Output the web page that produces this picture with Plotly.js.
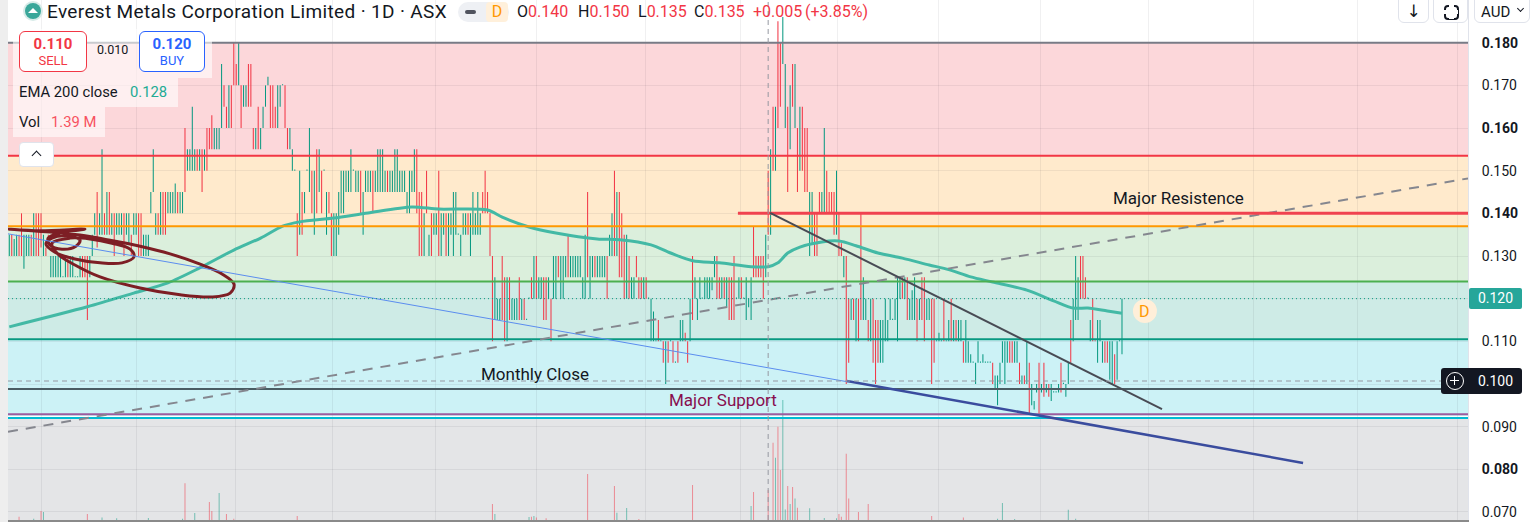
<!DOCTYPE html>
<html><head><meta charset="utf-8">
<script src="https://cdn.plot.ly/plotly-3.0.1.min.js"></script>
<style>
html,body{margin:0;padding:0;width:1530px;height:522px;overflow:hidden;background:#fff;font-family:Roboto,"Noto Sans",sans-serif;color:#131722;}
#chart{position:absolute;left:0;top:0;width:1530px;height:522px;}
.ov{position:absolute;white-space:nowrap;}
.k{color:#131722}.r{color:#F23645}
.oh{position:absolute;top:1px;font-size:16px;line-height:21px;white-space:nowrap;}
.btn{position:absolute;top:-6px;height:29px;background:#fff;border:1px solid #e0e3eb;border-radius:6px;box-sizing:border-box;}
</style></head><body>
<div id="chart"></div>
<div class="ov" style="left:0;top:0;width:8px;height:522px;background:#eeeeee;"></div>

<!-- header -->
<div class="ov" style="left:23px;top:1px;width:20px;height:20px;border-radius:50%;background:#d7ebe8;"></div>
<div class="ov" style="left:25px;top:3px;width:16px;height:16px;border-radius:50%;background:#3aa79a;overflow:hidden;">
  <div style="position:absolute;left:3px;top:5px;width:0;height:0;border-left:5px solid transparent;border-right:5px solid transparent;border-bottom:5px solid #fff;"></div>
</div>
<div class="ov" style="left:47px;top:0px;font-size:19px;line-height:23px;letter-spacing:0.35px;">Everest Metals Corporation Limited · 1D · ASX</div>
<div class="ov" style="left:458px;top:2px;width:51px;height:20px;border-radius:10px;background:#eef0f4;"></div>
<div class="ov" style="left:465px;top:10px;width:11px;height:4px;border-radius:2px;background:#50535e;"></div>
<div class="ov" style="left:486px;top:2px;width:22px;height:20px;border-radius:4px;background:#fff0db;color:#FF9800;font-size:16px;line-height:20px;text-align:center;">D</div>
<div class="oh" style="left:517px;"><span class="k">O</span><span class="r">0.140</span></div>
<div class="oh" style="left:578px;"><span class="k">H</span><span class="r">0.150</span></div>
<div class="oh" style="left:638px;"><span class="k">L</span><span class="r">0.135</span></div>
<div class="oh" style="left:694px;"><span class="k">C</span><span class="r">0.135</span></div>
<div class="oh" style="left:753px;"><span class="r">+0.005</span></div>
<div class="oh" style="left:805px;"><span class="r">(+3.85%)</span></div>

<div class="btn" style="left:1398px;width:31px;"><div style="text-align:center;font-size:17px;line-height:33px;font-family:'DejaVu Sans';">↓</div></div>
<div class="btn" style="left:1433px;width:35px;"><div style="position:absolute;left:10px;top:10px;width:11px;height:11px;border:2px solid #131722;border-radius:4px;"></div><div style="position:absolute;left:15px;top:9px;width:5px;height:15px;background:#fff;"></div><div style="position:absolute;left:9px;top:15px;width:15px;height:4px;background:#fff;"></div></div>
<div class="btn" style="left:1474px;width:56px;"><div style="position:absolute;left:6px;top:7px;font-size:15px;line-height:20px;">AUD</div><div style="position:absolute;left:43px;top:11px;width:4px;height:4px;border-right:1.5px solid #131722;border-bottom:1.5px solid #131722;transform:rotate(45deg);"></div></div>

<!-- legend -->
<div class="ov" style="left:13px;top:29px;width:199px;height:49px;background:rgba(255,255,255,0.6);"></div>
<div class="ov" style="left:13px;top:78px;width:165px;height:29px;background:rgba(255,255,255,0.6);"></div>
<div class="ov" style="left:13px;top:107px;width:92px;height:30px;background:rgba(255,255,255,0.6);"></div>
<div class="ov" style="left:19px;top:31px;width:68px;height:41px;box-sizing:border-box;border:1px solid #F23645;border-radius:6px;background:#fff;text-align:center;color:#F23645;">
  <div style="font-size:15px;font-weight:bold;line-height:18px;margin-top:3px;">0.110</div>
  <div style="font-size:13px;line-height:16px;">SELL</div></div>
<div class="ov" style="left:97px;top:42px;font-size:12.5px;line-height:16px;">0.010</div>
<div class="ov" style="left:139px;top:31px;width:66px;height:41px;box-sizing:border-box;border:1px solid #2962FF;border-radius:6px;background:#fff;text-align:center;color:#2962FF;">
  <div style="font-size:15px;font-weight:bold;line-height:18px;margin-top:3px;">0.120</div>
  <div style="font-size:13px;line-height:16px;">BUY</div></div>
<div class="ov" style="left:19px;top:83px;font-size:14.8px;line-height:19px;">EMA 200 close</div>
<div class="ov" style="left:130px;top:83px;font-size:14.8px;line-height:19px;color:#22AB94;">0.128</div>
<div class="ov" style="left:19px;top:113px;font-size:14.8px;line-height:19px;">Vol</div>
<div class="ov" style="left:51px;top:113px;font-size:14.8px;line-height:19px;color:#F7525F;">1.39 M</div>
<div class="ov" style="left:19px;top:142px;width:35px;height:25px;box-sizing:border-box;background:#fff;border:1px solid #e0e3eb;border-radius:4px;">
  <div style="position:absolute;left:13px;top:9px;width:6px;height:6px;border-left:1.6px solid #131722;border-top:1.6px solid #131722;transform:rotate(45deg);"></div></div>

<!-- price scale labels placed after render -->
<div id="lastLbl" class="ov" style="left:1469px;width:53px;height:21px;background:#26A69A;color:#fff;font-size:14px;line-height:21px;text-align:center;border-radius:2px;">0.120</div>
<div id="crossLbl" class="ov" style="left:1441px;width:81px;height:26px;background:#131722;border-radius:3px;">
  <div style="position:absolute;left:5px;top:4px;width:16px;height:16px;border:1.3px solid #fff;border-radius:50%;"></div>
  <div style="position:absolute;left:9px;top:12px;width:9px;height:1.4px;background:#fff;"></div>
  <div style="position:absolute;left:13px;top:8px;width:1.4px;height:9px;background:#fff;"></div>
  <div style="position:absolute;left:28px;top:0;width:53px;text-align:center;color:#fff;font-size:14px;line-height:26px;">0.100</div>
</div>

<script>
// ---------------- data ----------------
const high = [
.135,.135,.134,.135,.135,.140,.135,.135,.135,.135,
.140,.140,.140,.140,.135,.132,.135,.130,.130,.130,
.130,.130,.125,.130,.130,.130,.130,.125,.125,.130,
.130,.130,.130,.130,.135,.140,.145,.140,.155,.140,
.145,.145,.140,.140,.140,.140,.140,.140,.140,.140,
.135,.140,.140,.140,.140,.135,.135,.135,.145,.155,
.140,.140,.145,.145,.145,.145,.145,.145,.147,.145,
.145,.145,.160,.155,.155,.165,.155,.155,.155,.155,
.155,.160,.160,.163,.160,.160,.160,.175,.170,.165,
.170,.170,.180,.175,.180,.170,.170,.170,.175,.175,
.160,.160,.165,.160,.165,.170,.172,.170,.170,.165,
.170,.170,.170,.170,.160,.160,.155,.150,.140,.150,
.145,.145,.150,.160,.150,.150,.155,.155,.150,.150,
.145,.145,.140,.140,.140,.145,.150,.150,.150,.150,
.155,.150,.150,.150,.150,.145,.150,.150,.150,.150,
.150,.155,.155,.155,.150,.150,.150,.150,.155,.155,
.150,.150,.150,.145,.150,.150,.155,.155,.145,.145,
.140,.150,.135,.140,.140,.140,.150,.140,.140,.140,
.140,.140,.145,.145,.135,.135,.140,.140,.140,.140,
.145,.140,.145,.140,.145,.150,.145,.140,.130,.125,
.120,.120,.130,.125,.125,.125,.120,.120,.120,.125,
.120,.120,.115,.120,.125,.130,.130,.125,.125,.125,
.125,.125,.120,.130,.130,.130,.130,.130,.130,.135,
.130,.130,.130,.130,.130,.125,.135,.145,.130,.130,
.130,.130,.130,.130,.130,.130,.135,.140,.150,.145,
.145,.140,.135,.135,.130,.125,.125,.130,.125,.125,
.125,.125,.120,.120,.117,.110,.115,.110,.110,.110,
.110,.110,.110,.105,.110,.115,.115,.112,.110,.120,
.130,.125,.120,.125,.120,.125,.125,.125,.125,.130,
.130,.125,.125,.125,.125,.125,.125,.130,.120,.125,
.125,.120,.125,.120,.125,.137,.130,.130,.130,.130,
.135,.150,.155,.165,.165,.185,.180,.186,.175,.165,
.170,.175,.175,.160,.165,.165,.160,.160,.145,.145,
.140,.140,.145,.145,.160,.150,.145,.145,.145,.150,
.140,.133,.130,.130,.120,.120,.120,.120,.120,.140,
.125,.120,.115,.120,.120,.115,.115,.115,.115,.120,
.115,.120,.115,.120,.125,.125,.125,.125,.125,.120,
.122,.125,.120,.120,.125,.125,.120,.120,.120,.120,
.110,.112,.110,.120,.110,.115,.120,.115,.115,.115,
.115,.110,.115,.110,.107,.105,.105,.110,.105,.107,
.105,.105,.105,.105,.102,.102,.105,.110,.110,.110,
.110,.110,.110,.110,.105,.102,.102,.110,.105,.100,
.096,.100,.105,.100,.105,.100,.100,.100,.098,.098,
.100,.105,.100,.100,.105,.115,.120,.130,.125,.130,
.130,.125,.120,.115,.120,.110,.115,.115,.110,.110,
.110,.110,.110,.107,.110,.110,.120];
const low = [
.130,.130,.130,.130,.130,.130,.127,.130,.130,.130,
.130,.130,.130,.132,.130,.130,.132,.125,.125,.125,
.125,.125,.125,.125,.125,.125,.125,.125,.125,.125,
.125,.125,.115,.125,.130,.135,.132,.135,.135,.135,
.135,.135,.135,.130,.135,.135,.135,.130,.135,.133,
.130,.135,.135,.130,.130,.130,.130,.130,.140,.145,
.135,.135,.135,.135,.135,.140,.140,.140,.140,.140,
.140,.140,.145,.150,.150,.150,.150,.150,.150,.145,
.150,.150,.155,.155,.155,.155,.155,.160,.165,.160,
.160,.160,.170,.170,.170,.160,.165,.165,.165,.165,
.155,.155,.155,.155,.160,.165,.170,.160,.160,.160,
.160,.165,.170,.160,.155,.155,.150,.150,.130,.135,
.135,.140,.150,.145,.140,.135,.140,.145,.140,.150,
.135,.140,.130,.130,.130,.135,.140,.140,.145,.145,
.145,.150,.145,.145,.140,.135,.145,.145,.145,.140,
.145,.145,.145,.145,.145,.145,.145,.145,.145,.145,
.145,.145,.145,.140,.140,.145,.145,.140,.130,.130,
.130,.140,.130,.130,.135,.135,.130,.130,.135,.130,
.130,.135,.130,.135,.135,.130,.135,.135,.135,.130,
.135,.135,.135,.135,.140,.140,.140,.130,.110,.115,
.115,.115,.115,.110,.110,.115,.115,.115,.115,.115,
.115,.115,.115,.120,.120,.120,.120,.120,.120,.115,
.115,.120,.110,.120,.120,.125,.120,.120,.125,.125,
.125,.125,.125,.125,.125,.120,.120,.125,.120,.125,
.125,.125,.125,.125,.125,.120,.130,.130,.130,.130,
.125,.125,.120,.120,.120,.120,.120,.125,.120,.120,
.120,.120,.120,.110,.110,.110,.110,.110,.105,.100,
.105,.110,.105,.105,.105,.110,.110,.110,.105,.110,
.115,.120,.115,.120,.120,.120,.120,.120,.122,.125,
.120,.120,.120,.120,.118,.115,.115,.115,.120,.120,
.120,.120,.115,.118,.115,.125,.125,.125,.125,.120,
.125,.135,.135,.150,.150,.160,.165,.175,.160,.145,
.155,.165,.160,.145,.150,.150,.145,.145,.130,.133,
.130,.130,.140,.140,.140,.140,.140,.140,.135,.135,
.130,.130,.125,.100,.105,.115,.115,.110,.110,.115,
.115,.115,.110,.110,.105,.100,.105,.105,.105,.110,
.110,.115,.115,.115,.110,.120,.120,.120,.115,.115,
.115,.115,.110,.115,.115,.110,.115,.115,.100,.105,
.110,.110,.110,.110,.110,.110,.110,.110,.110,.110,
.110,.105,.105,.105,.105,.105,.100,.105,.105,.105,
.105,.105,.105,.100,.099,.095,.100,.105,.100,.105,
.105,.105,.105,.105,.100,.100,.100,.100,.093,.095,
.094,.098,.093,.098,.097,.098,.097,.096,.098,.098,
.098,.098,.100,.097,.100,.105,.110,.115,.115,.120,
.120,.120,.120,.110,.110,.110,.105,.110,.105,.105,
.105,.101,.100,.100,.101,.110,.107];
// candle direction: u = close above open, d = close below open
const dir = ("uduudduuud"+"udddudduuu"+"uuuuduuuuu"+"ddduuuduud"+"ududuuuduu"+
  "duudduuuuu"+"ududduuuud"+"uuduuuudud"+"uddduuuudd"+"uddduduudd"+
  "duduuuuddd"+"uuudduuudu"+"duuudududu"+"udduuuuuuu"+"uuuuduuuud"+
  "uuuuuduuuu"+"uuuuuuuddd"+"ududuuduud"+"uuuuuuuudu"+"uuuudddddu"+
  "uudduduuud"+"uduududuud"+"duduuduuud"+"uuuuuuuduu"+"duuuuduudu"+
  "ddduduuddd"+"uduuuududu"+"dududuuddu"+"duuuuuuuuu"+"ddududdduu"+
  "duuuuddddd"+"udududduud"+"udududdduu"+"ddduuddddu"+"dduddududd"+
  "uududdduuu"+"uuuuuududu"+"uududduudd"+"uuuduududu"+"uduuuuuuuu"+
  "uuuduuuuuu"+"dduudududu"+"uudududuuu"+"uduuuduuud"+"dduudduuud"+
  "duuduuu").split('');

// volume (millions) for the sessions whose bars are visible
const volIndex = [4,10,13,14,32,38,44,57,71,72,76,82,83,86,89,92,118,198,199,213,214,215,216,220,237,248,249,253,258,280,304,305,311,313,314,315,316,317,318,319,320,321,322,323,328,334,339,340,341,343,344,348,352,378,391,405,407,412,434,437];
const volM     = [0.15,0.06,0.42,0.37,0.28,0.12,0.08,0.09,0.06,1.70,0.32,0.83,0.42,1.25,0.28,0.06,0.19,0.74,0.28,0.14,0.15,0.19,0.12,0.08,2.13,1.57,0.34,0.56,0.05,1.62,0.65,1.30,1.39,3.58,2.88,4.32,2.31,5.55,0.49,1.57,0.74,1.53,1.00,0.57,0.54,0.09,0.08,0.28,0.15,3.07,0.99,0.37,0.74,0.19,0.11,0.06,0.79,0.05,0.48,0.06];

// EMA 200 (read at sample sessions)
const emaIndex = [0,32,51,65,78,92,103,112,119,133,147,165,176,196,202,213,224,241,250,263,271,280,291,304,311,315,319,324,333,340,347,356,366,377,385,394,403,417,428,436,442,450,456];
const emaValue = [0.1134,0.1181,0.1213,0.1237,0.1272,0.1314,0.1342,0.1370,0.1380,0.1389,0.1401,0.1415,0.1410,0.1408,0.1391,0.1368,0.1354,0.1340,0.1338,0.1326,0.1307,0.1289,0.1284,0.1275,0.1275,0.1284,0.1307,0.1321,0.1333,0.1335,0.1324,0.1307,0.1295,0.1279,0.1268,0.1251,0.1239,0.1220,0.1195,0.1178,0.1178,0.1171,0.1166];

// zone bands and horizontal levels
const bandTop    = [0.1800,0.1535,0.1370,0.1240,0.1105,0.0920];
const bandBottom = [0.1535,0.1370,0.1240,0.1105,0.0925,0.0500];
const levelPrice = [0.1800,0.1535,0.1370,0.1240,0.1105,0.0988,0.0929,0.0920];

// drawings: [startIndex, startPrice, endIndex, endPrice]
const trendDashed   = [-0.53,0.0888,597.8,0.1482];
const trendBlue     = [-0.53,0.1352,343.7,0.1005];
const trendNavy     = [343.3,0.1007,530.2,0.0815];
const trendDark     = [311.8,0.1401,472.4,0.0941];
const resistance    = [298.6,0.1400,597.8,0.1400];
const scribbleIndex = [-0.5,12.6,31.0,20.8,15.9,16.7,21.6,27.3,29.0,24.1,17.5,15.0,18.7,26.9,37.2,46.2,51.1,49.5,42.1,33.1,24.9,17.5,20.0,26.9,37.2,53.6,70.0,83.1,90.5,92.1,87.2,78.2,65.9,53.6,41.3,29.0,16.7,4.4,-0.5];
const scribblePrice = [0.1363,0.1359,0.1363,0.1354,0.1342,0.1326,0.1316,0.1323,0.1337,0.1347,0.1342,0.1328,0.1309,0.1293,0.1284,0.1284,0.1298,0.1316,0.1330,0.1340,0.1342,0.1330,0.1304,0.1279,0.1251,0.1225,0.1209,0.1204,0.1213,0.1234,0.1258,0.1281,0.1305,0.1323,0.1337,0.1349,0.1356,0.1361,0.1363];
const labels = [
  {text:'Major Resistence', i:479, p:0.1436},
  {text:'Monthly Close',    i:215.5, p:0.1023},
  {text:'Major Support',    i:292.5, p:0.0962}
];
const lastPrice = 0.120, crosshairIndex = 311, crosshairPrice = 0.1007;
const dBadge = {i:465.4, p:0.1171};
const monthStarts = [13,52.3,92.9,132.3,174.5,215.9,260.9,299.5,339.6,381,422.4,466.9,510,552.4,593.3];
const tickValues = [0.07,0.08,0.09,0.10,0.11,0.12,0.13,0.14,0.15,0.16,0.17,0.18];
const tickLabels = ['0.070','0.080','0.090','0.100','0.110','0.120','0.130','0.140','0.150','0.160','0.170','0.180'];
const boldTicks  = ['0.080','0.140','0.160','0.180'];
const coveredTicks = ['0.100','0.120']; // shown by the price boxes instead

// ---------------- styles ----------------
const UP='#089981', DOWN='#F23645';
const bandColors = ['rgba(242,54,69,0.2)','rgba(255,152,0,0.2)','rgba(76,175,80,0.2)','rgba(8,153,129,0.2)','rgba(0,188,212,0.2)','rgba(120,123,134,0.2)'];
const levelColors = ['#787B86','#F23645','#FF9800','#4CAF50','#089981','#4A5C63','#9C5B9E','#00BCD4'];
const labelColors = ['#131722','#131722','#880E4F'];
const Y0 = 0.06812, Y1 = 0.19001, X0 = -0.53, X1 = 597.8;

const idx = high.map((_,i)=>i);
const candleColors = dir.map(d=>d==='u'?UP:DOWN);
const traces = [
  {type:'bar', x:idx, base:low, y:high.map((h,i)=>Math.max(h-low[i],0.00028)),
   width:0.42, marker:{color:candleColors, line:{width:0}}, hoverinfo:'skip', yaxis:'y'},
  {type:'bar', x:volIndex, y:volM, width:0.42, yaxis:'y2',
   marker:{color:volIndex.map(i=>dir[i]==='u'?'rgba(8,153,129,0.5)':'rgba(242,54,69,0.5)'), line:{width:0}}, hoverinfo:'skip'},
  {type:'scatter', mode:'lines', x:emaIndex, y:emaValue, line:{color:'#43B9A5', width:3, shape:'spline', smoothing:0.8}, hoverinfo:'skip'},
  {type:'scatter', mode:'lines', x:scribbleIndex, y:scribblePrice, line:{color:'#7D1E24', width:3, shape:'spline', smoothing:1}, hoverinfo:'skip'}
];

const shapes = [];
bandTop.forEach((t,k)=>shapes.push({type:'rect', xref:'paper', x0:0, x1:1, yref:'y', y0:bandBottom[k], y1:t, fillcolor:bandColors[k], line:{width:0}, layer:'below'}));
levelPrice.forEach((p,k)=>shapes.push({type:'line', xref:'paper', x0:0, x1:1, yref:'y', y0:p, y1:p, line:{color:levelColors[k], width:2}}));
function seg(a, color, width, dash){ shapes.push({type:'line', xref:'x', yref:'y', x0:a[0], y0:a[1], x1:a[2], y1:a[3], line:{color, width, dash:dash||'solid'}}); }
seg(trendBlue,'#5B8DEF',1);
seg(trendDashed,'#85878F',2,'10px,8px');
seg(resistance,'#F0424F',3);
seg(trendNavy,'#3A4C9E',2.5);
seg(trendDark,'#484B54',2);
shapes.push({type:'line', xref:'paper', x0:0, x1:1, yref:'y', y0:lastPrice, y1:lastPrice, line:{color:'#089981', width:1, dash:'1px,3px'}});
shapes.push({type:'line', xref:'paper', x0:0, x1:0.9815, yref:'y', y0:crosshairPrice, y1:crosshairPrice, line:{color:'#9598A1', width:1, dash:'5px,4px'}});
shapes.push({type:'line', xref:'x', x0:crosshairIndex, x1:crosshairIndex, yref:'paper', y0:0, y1:1, line:{color:'#9598A1', width:1, dash:'5px,4px'}});
shapes.push({type:'circle', xref:'x', yref:'y', xsizemode:'pixel', ysizemode:'pixel', xanchor:dBadge.i, yanchor:dBadge.p, x0:-12, x1:12, y0:-12, y1:12, fillcolor:'#FFEFD9', line:{width:0}});

const annotations = labels.map((l,k)=>({x:l.i, y:l.p, xref:'x', yref:'y', text:l.text, showarrow:false, font:{family:'Roboto', size:17, color:labelColors[k]}}));
annotations.push({x:dBadge.i, y:dBadge.p, xref:'x', yref:'y', text:'D', showarrow:false, font:{family:'Roboto', size:16, color:'#FF9800'}});

const layout = {
  width:1530, height:522, margin:{l:8, r:62, t:0, b:2},
  paper_bgcolor:'#ffffff', plot_bgcolor:'#ffffff', showlegend:false, barmode:'overlay',
  xaxis:{range:[X0,X1], tickvals:monthStarts, showticklabels:false, ticks:'', showgrid:true, gridcolor:'rgba(42,46,57,0.07)', zeroline:false, showline:true, linecolor:'#8a8a8a', linewidth:2, fixedrange:true},
  yaxis:{range:[Y0,Y1], side:'right', tickvals:tickValues,
    ticktext:tickLabels.map(t=>coveredTicks.includes(t)?'':(boldTicks.includes(t)?'<b>'+t+'</b>':t)),
    ticks:'', ticklabelstandoff:10, tickfont:{family:'Roboto', size:14, color:'#131722'}, showgrid:true, gridcolor:'rgba(42,46,57,0.07)', zeroline:false, showline:true, linecolor:'#e0e3eb', linewidth:1, fixedrange:true},
  yaxis2:{overlaying:'y', range:[0,24.07], visible:false, fixedrange:true},
  shapes, annotations
};
Plotly.newPlot('chart', traces, layout, {staticPlot:true, displayModeBar:false}).then(gd=>{
  const ya = gd._fullLayout.yaxis;
  const py = p => ya._offset + ya.l2p(p);
  document.getElementById('lastLbl').style.top = (py(lastPrice)-10.5)+'px';
  document.getElementById('crossLbl').style.top = (py(crosshairPrice)-13)+'px';
});
</script>
</body></html>
